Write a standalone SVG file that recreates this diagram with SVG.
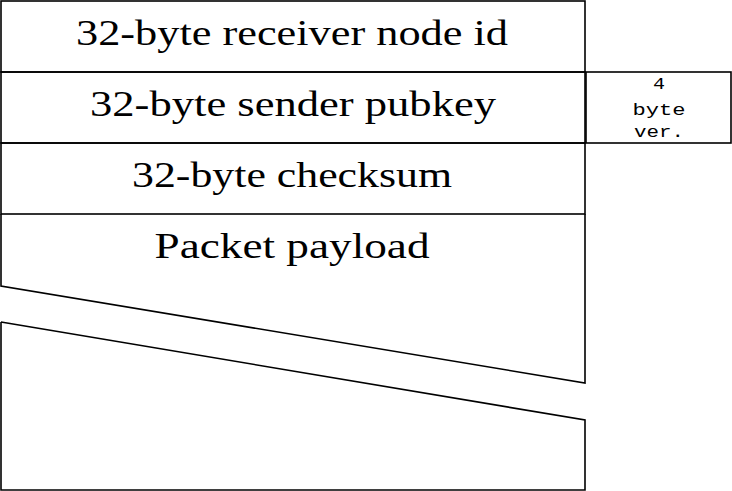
<svg xmlns="http://www.w3.org/2000/svg" width="732" height="491" viewBox="0 0 732 491">
<style>
.ln{fill:none;stroke:#000;stroke-width:1.6;stroke-linejoin:miter}
.big{font-family:"Liberation Serif","DejaVu Serif",serif;font-size:35px;fill:#000;text-anchor:middle}
.sm{font-family:"Liberation Mono","DejaVu Sans Mono",monospace;font-size:16px;fill:#000;text-anchor:middle}
</style>
<rect width="732" height="491" fill="#fff"/>
<g id="receiver">
<rect class="ln" x="1" y="1" width="584" height="71"/>
<text class="big" x="292" y="45" textLength="432" lengthAdjust="spacingAndGlyphs">32-byte receiver node id</text>
</g>
<g id="sender">
<rect class="ln" x="1" y="72" width="584" height="71"/>
<text class="big" x="293" y="116" textLength="406" lengthAdjust="spacingAndGlyphs">32-byte sender pubkey</text>
</g>
<g id="version">
<rect class="ln" x="586" y="72" width="145" height="71"/>
<text class="sm" x="659" y="89" textLength="12" lengthAdjust="spacingAndGlyphs">4</text>
<text class="sm" x="659" y="115" textLength="53" lengthAdjust="spacingAndGlyphs">byte</text>
<text class="sm" x="659" y="137" textLength="50" lengthAdjust="spacingAndGlyphs">ver.</text>
</g>
<g id="checksum">
<rect class="ln" x="1" y="143" width="584" height="71"/>
<text class="big" x="292" y="187" textLength="320" lengthAdjust="spacingAndGlyphs">32-byte checksum</text>
</g>
<g id="payload">
<polyline class="ln" points="1,214 1,286 585,383 585,214"/>
<polyline class="ln" points="1,322 1,490 585,490 585,420 1,322"/>
<text class="big" x="292" y="258" textLength="275" lengthAdjust="spacingAndGlyphs">Packet payload</text>
</g>
<g id="connectors"></g>
</svg>
